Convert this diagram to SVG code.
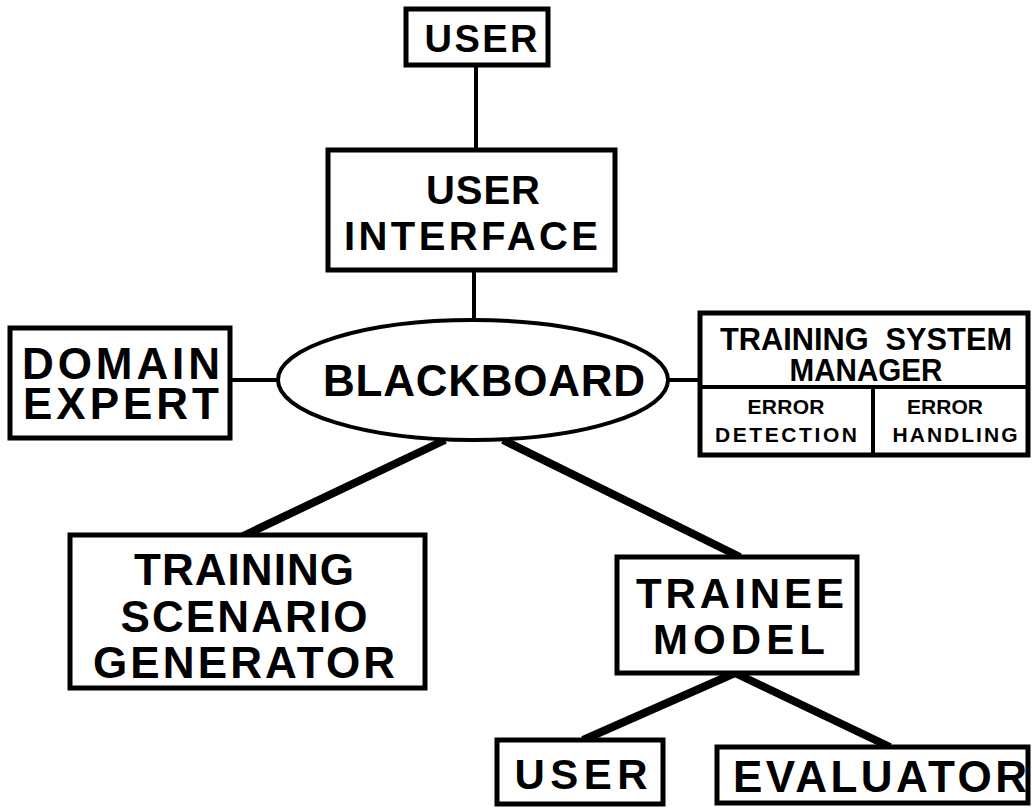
<svg xmlns="http://www.w3.org/2000/svg" width="1032" height="809" viewBox="0 0 1032 809">
<style>
.box{fill:#fff;stroke:#000;stroke-width:5}
.t{font-family:"Liberation Sans",Arial,sans-serif;font-weight:bold;fill:#000;text-anchor:middle}
.thin{stroke:#000;stroke-width:4;fill:none}
.thick{stroke:#000;stroke-width:8;fill:none}
</style>
<rect width="1032" height="809" fill="#fff"/>
<g id="connectors">
<line class="thin" x1="476" y1="65" x2="476" y2="150"/>
<line class="thin" x1="474" y1="270" x2="474" y2="320"/>
<line class="thin" x1="230" y1="380" x2="279" y2="380"/>
<line class="thin" x1="667" y1="380" x2="700" y2="380"/>
<line class="thick" x1="445" y1="440" x2="243" y2="536"/>
<line class="thick" x1="503" y1="440" x2="740" y2="557"/>
<line class="thick" x1="735" y1="673" x2="583" y2="740"/>
<line class="thick" x1="735" y1="673" x2="890" y2="747"/>
</g>
<g id="user-top">
<rect class="box" x="406" y="9" width="142" height="56"/>
<text class="t" x="481" y="52" font-size="38" textLength="113" lengthAdjust="spacing">USER</text>
</g>
<g id="user-interface">
<rect class="box" x="328" y="150" width="287" height="120"/>
<text class="t" x="483" y="204" font-size="40" textLength="114" lengthAdjust="spacing">USER</text>
<text class="t" x="471" y="250" font-size="40" textLength="254" lengthAdjust="spacing">INTERFACE</text>
</g>
<g id="domain-expert">
<rect class="box" x="10" y="328" width="220" height="110"/>
<text class="t" x="121" y="379" font-size="44" textLength="198" lengthAdjust="spacing">DOMAIN</text>
<text class="t" x="121" y="419" font-size="44" textLength="196" lengthAdjust="spacing">EXPERT</text>
</g>
<g id="blackboard">
<ellipse cx="473" cy="380" rx="195" ry="60" fill="#fff" stroke="#000" stroke-width="4"/>
<text class="t" x="484" y="396" font-size="44" textLength="322" lengthAdjust="spacing">BLACKBOARD</text>
</g>
<g id="training-system-manager">
<rect class="box" x="700" y="313" width="328" height="142"/>
<line class="thin" x1="700" y1="387" x2="1028" y2="387"/>
<line class="thin" x1="873" y1="387" x2="873" y2="455"/>
<text class="t" x="866" y="350" font-size="32" textLength="292" lengthAdjust="spacingAndGlyphs" xml:space="preserve">TRAINING  SYSTEM</text>
<text class="t" x="866" y="381" font-size="31" textLength="153" lengthAdjust="spacingAndGlyphs">MANAGER</text>
<text class="t" x="786" y="414" font-size="21" textLength="77" lengthAdjust="spacing">ERROR</text>
<text class="t" x="786" y="442" font-size="21" textLength="142" lengthAdjust="spacing">DETECTION</text>
<text class="t" x="945" y="414" font-size="21" textLength="76" lengthAdjust="spacing">ERROR</text>
<text class="t" x="955" y="442" font-size="21" textLength="125" lengthAdjust="spacing">HANDLING</text>
</g>
<g id="training-scenario-generator">
<rect class="box" x="70" y="535" width="355" height="153"/>
<text class="t" x="244" y="585" font-size="44" textLength="220" lengthAdjust="spacing">TRAINING</text>
<text class="t" x="244" y="632" font-size="44" textLength="247" lengthAdjust="spacing">SCENARIO</text>
<text class="t" x="244" y="678" font-size="44" textLength="302" lengthAdjust="spacing">GENERATOR</text>
</g>
<g id="trainee-model">
<rect class="box" x="617" y="557" width="240" height="116"/>
<text class="t" x="740" y="608" font-size="42" textLength="208" lengthAdjust="spacing">TRAINEE</text>
<text class="t" x="739" y="654" font-size="42" textLength="172" lengthAdjust="spacing">MODEL</text>
</g>
<g id="user-bottom">
<rect class="box" x="497" y="740" width="166" height="64"/>
<text class="t" x="581" y="789" font-size="42" textLength="133" lengthAdjust="spacing">USER</text>
</g>
<g id="evaluator">
<rect class="box" x="717" y="747" width="311" height="56"/>
<text class="t" x="880" y="792" font-size="44" textLength="294" lengthAdjust="spacing">EVALUATOR</text>
</g>
</svg>
